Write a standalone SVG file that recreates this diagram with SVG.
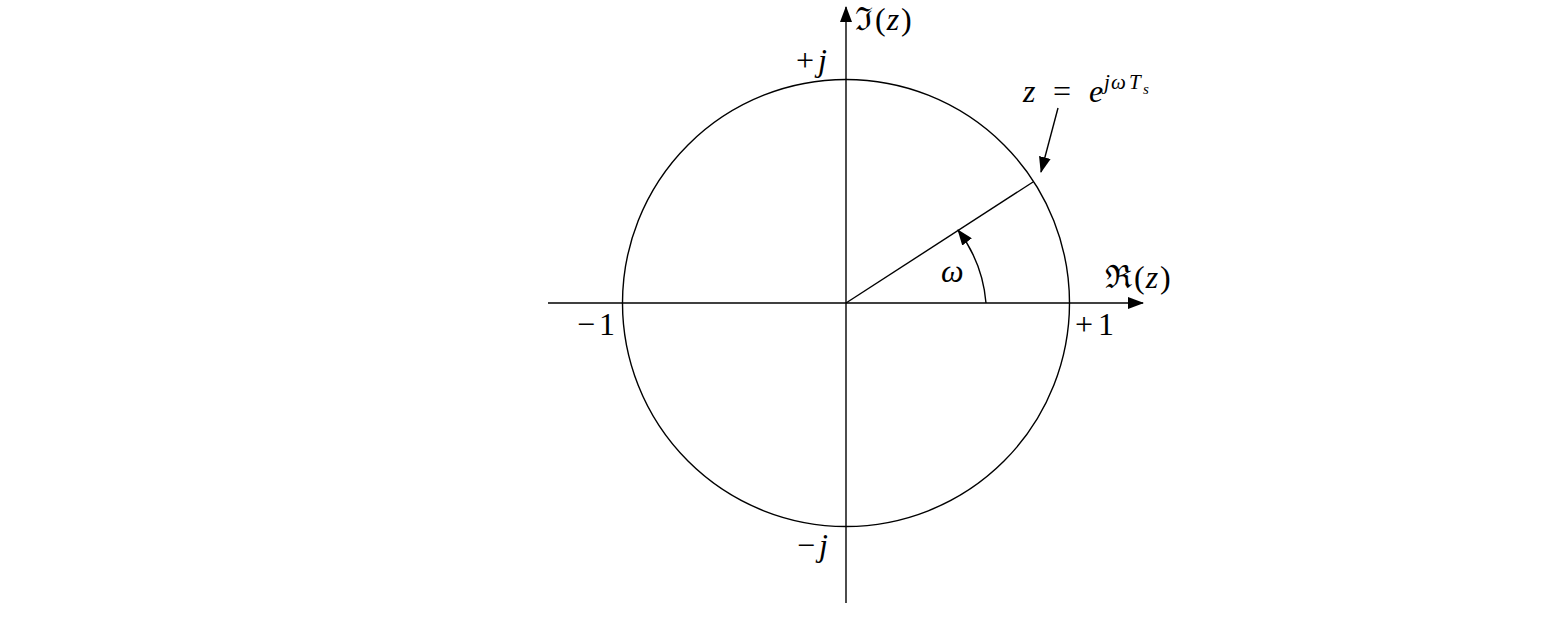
<svg xmlns="http://www.w3.org/2000/svg" width="1564" height="641" viewBox="0 0 1564 641">
<style>
.ln{fill:none;stroke:#000;stroke-width:1.4}
.t{font-family:"Liberation Serif","DejaVu Serif",serif;font-size:32px;fill:#000}
.i{font-style:italic}
.sup{font-size:21px}
.sub{font-size:15px}
</style>
<defs>
<marker id="ah" markerWidth="16" markerHeight="12" refX="15" refY="6" orient="auto" markerUnits="userSpaceOnUse">
<path d="M0,0 L16,6 L0,12 Z" fill="#000"/>
</marker>
</defs>
<rect width="1564" height="641" fill="#fff"/>
<g id="connectors">
<line class="ln" x1="548" y1="303" x2="1143" y2="303" marker-end="url(#ah)"/>
<line class="ln" x1="846" y1="603" x2="846" y2="7" marker-end="url(#ah)"/>
<line class="ln" x1="846" y1="303" x2="1033" y2="182"/>
<path class="ln" d="M986,303 A140,140 0 0 0 958,230" marker-end="url(#ah)"/>
<line class="ln" x1="1058" y1="108" x2="1041" y2="172" marker-end="url(#ah)"/>
</g>
<g id="unit-circle">
<circle class="ln" cx="846" cy="303" r="223.5"/>
</g>
<g id="labels">
<text class="t" x="855" y="30">ℑ<tspan dx="2">(</tspan><tspan class="i" dx="1">z</tspan><tspan dx="2">)</tspan></text>
<text class="t" x="796" y="71">+<tspan class="i" dx="4">j</tspan></text>
<text class="t" x="797" y="556">−<tspan class="i" dx="4">j</tspan></text>
<text class="t" x="577" y="335">−<tspan dx="4">1</tspan></text>
<text class="t" x="1075" y="335">+<tspan dx="5">1</tspan></text>
<text class="t" x="1105" y="288">ℜ<tspan dx="2">(</tspan><tspan class="i" dx="1">z</tspan><tspan dx="2">)</tspan></text>
<text class="t i" x="941" y="282">ω</text>
<text class="t" y="102"><tspan class="i" x="1023">z</tspan><tspan x="1053">=</tspan><tspan class="i" x="1089">e</tspan></text>
<text class="t i sup" y="89"><tspan x="1104">j</tspan><tspan x="1111">ω</tspan><tspan x="1129">T</tspan></text>
<text class="t i sub" x="1143" y="94">s</text>
</g>
</svg>
